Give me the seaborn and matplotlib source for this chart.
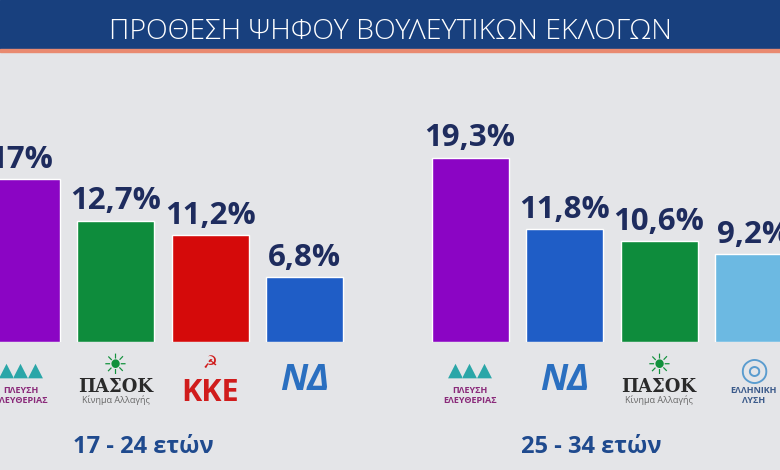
import matplotlib
matplotlib.use("Agg")
import matplotlib.pyplot as plt
import seaborn as sns
import pandas as pd
from matplotlib.patches import Rectangle

title = "ΠΡΟΘΕΣΗ ΨΗΦΟΥ ΒΟΥΛΕΥΤΙΚΩΝ ΕΚΛΟΓΩΝ"
age_groups = ["17 - 24 ετών", "25 - 34 ετών"]

parties_young = ["Πλεύση Ελευθερίας", "ΠΑΣΟΚ", "ΚΚΕ", "ΝΔ"]
values_young = [17.0, 12.7, 11.2, 6.8]
labels_young = ["17%", "12,7%", "11,2%", "6,8%"]

parties_adult = ["Πλεύση Ελευθερίας", "ΝΔ", "ΠΑΣΟΚ", "Ελληνική Λύση"]
values_adult = [19.3, 11.8, 10.6, 9.2]
labels_adult = ["19,3%", "11,8%", "10,6%", "9,2%"]

party_colors = {
    "Πλεύση Ελευθερίας": "#8b05c4",
    "ΠΑΣΟΚ": "#0e8c3c",
    "ΚΚΕ": "#d50a0a",
    "ΝΔ": "#1f5dc6",
    "Ελληνική Λύση": "#6cb9e2",
}

# text stand-ins for the party logos: (symbol, main text, symbol colour, text colour)
logos = {
    "Πλεύση Ελευθερίας": ("▲▲▲", "ΠΛΕΥΣΗ\nΕΛΕΥΘΕΡΙΑΣ", "#2aa6a8", "#8a2a7a"),
    "ΠΑΣΟΚ": ("☀", "ΠΑΣΟΚ", "#12913c", "#2a2a2a"),
    "ΚΚΕ": ("☭", "ΚΚΕ", "#d01c1c", "#d01c1c"),
    "ΝΔ": ("", "ΝΔ", "#2a6fc0", "#2a6fc0"),
    "Ελληνική Λύση": ("◎", "ΕΛΛΗΝΙΚΗ\nΛΥΣΗ", "#5a9ccf", "#3b5a8a"),
}

sns.set_theme(style="white")
plt.rcParams["font.family"] = ["Open Sans", "DejaVu Sans"]

bg = "#e4e5e8"
navy = "#1e2c5e"

fig = plt.figure(figsize=(7.8, 4.7), dpi=100, facecolor=bg)

# header band
fig.patches.append(Rectangle((0, 1 - 49 / 470), 1, 49 / 470, transform=fig.transFigure,
                             color="#18407e", zorder=0))
fig.patches.append(Rectangle((0, 1 - 52 / 470), 1, 3 / 470, transform=fig.transFigure,
                             color="#e98a70", zorder=0))
fig.text(0.5, 1 - 32 / 470, title, color="white", fontsize=20.5, fontweight="light",
         ha="center", va="center")

ax1 = fig.add_axes([0, 128 / 470, 385 / 780, 282 / 470])
ax2 = fig.add_axes([390 / 780, 128 / 470, 390 / 780, 282 / 470])

groups = [
    (ax1, parties_young, values_young, labels_young, (-0.222, 3.85), 0.371),
    (ax2, parties_adult, values_adult, labels_adult, (-0.847, 3.28), 0.515),
]

for (ax, parties, values, labels, xlim, gx), group in zip(groups, age_groups):
    df = pd.DataFrame({"party": parties, "value": values})
    sns.barplot(data=df, x="party", y="value", hue="party", palette=party_colors,
                width=0.815, saturation=1, legend=False, ax=ax)
    for cont, lab in zip(ax.containers, labels):
        ax.bar_label(cont, labels=[lab], padding=3, color=navy, fontsize=22.5,
                     fontweight="bold", clip_on=False)
    ax.set_xlim(*xlim)
    ax.set_ylim(0, 29.5)
    ax.set_facecolor("none")
    ax.axis("off")
    trans = ax.get_xaxis_transform()
    for i, p in enumerate(parties):
        sym, main, csym, cmain = logos[p]
        if p == "ΚΚΕ":
            ax.text(i, -0.075, sym, transform=trans, ha="center", va="center",
                    color=csym, fontsize=12, family=["DejaVu Sans"])
            ax.text(i, -0.18, main, transform=trans, ha="center", va="center",
                    color=cmain, fontsize=22, fontweight="bold")
        elif p == "ΝΔ":
            ax.text(i, -0.14, main, transform=trans, ha="center", va="center",
                    color=cmain, fontsize=26, fontweight="bold", style="italic")
        elif p == "ΠΑΣΟΚ":
            ax.text(i, -0.085, sym, transform=trans, ha="center", va="center",
                    color=csym, fontsize=20, family=["DejaVu Sans"])
            ax.text(i, -0.16, main, transform=trans, ha="center", va="center",
                    color=cmain, fontsize=13, fontweight="bold", family=["DejaVu Serif"])
            ax.text(i, -0.205, "Κίνημα Αλλαγής", transform=trans, ha="center", va="center",
                    color="#666666", fontsize=6.5)
        else:
            ax.text(i, -0.10, sym, transform=trans, ha="center", va="center",
                    color=csym, fontsize=14 if p != "Ελληνική Λύση" else 24,
                    family=["DejaVu Sans"])
            ax.text(i, -0.19, main, transform=trans, ha="center", va="center",
                    color=cmain, fontsize=6.5, fontweight="bold", linespacing=1.1)
    fig.text(ax.get_position().x0 + gx * ax.get_position().width, 23 / 470, group,
             color="#1f4a8e", fontsize=17, fontweight="bold", ha="center", va="center")

fig.savefig("out.png", dpi=100, facecolor=bg)
